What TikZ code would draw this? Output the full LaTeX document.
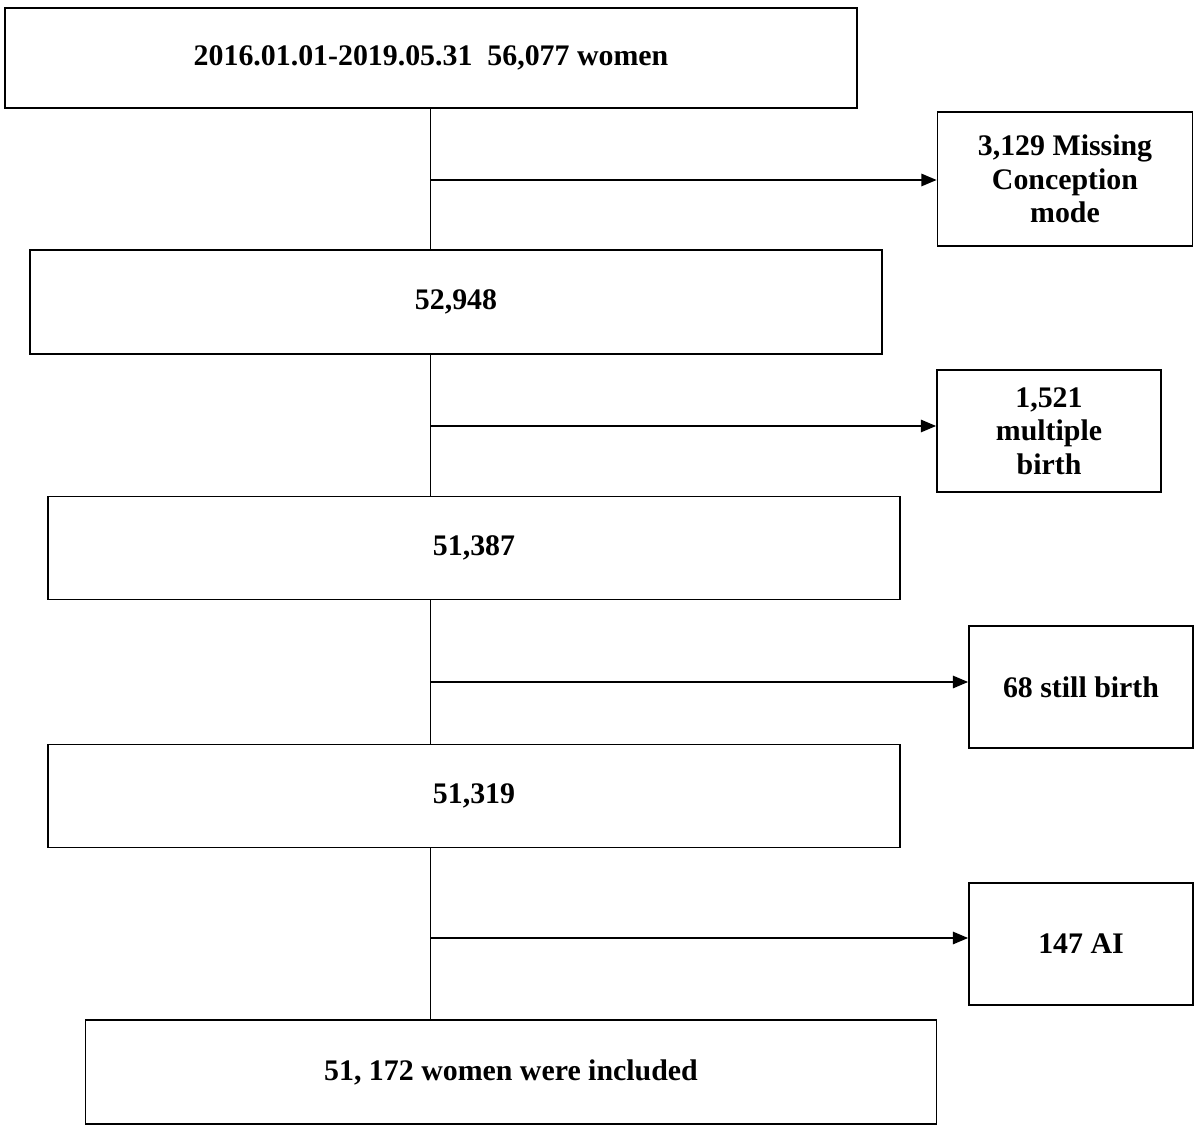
\documentclass[tikz,border=0pt]{standalone}
\usepackage{fontspec}
\setmainfont{Liberation Serif}
\usetikzlibrary{arrows}

\begin{document}
\begin{tikzpicture}[x=0.02cm,y=-0.02cm,
  box/.style={draw,line width=1.1pt,inner sep=0pt,align=center,
    font=\fontsize{17}{19}\selectfont\bfseries},
  link/.style={line width=0.5pt},
  exarrow/.style={line width=1pt,-triangle 45}]
\useasboundingbox (0,0) rectangle (1200,1131);
% main column
\node[box,minimum width=852*0.02cm,minimum height=100*0.02cm] (start) at (431,58) {2016.01.01-2019.05.31\ \ 56,077 women};
\node[box,minimum width=852*0.02cm,minimum height=104*0.02cm] (n1) at (456,302) {52,948};
\node[box,minimum width=852*0.02cm,minimum height=103*0.02cm] (n2) at (474,548) {51,387};
\node[box,minimum width=852*0.02cm,minimum height=103*0.02cm] (n3) at (474,796) {51,319};
\node[box,minimum width=851*0.02cm,minimum height=104*0.02cm] (final) at (511,1072) {51, 172 women were included};
% excluded
\node[box,minimum width=255*0.02cm,minimum height=134*0.02cm] (ex1) at (1065,179) {3,129 Missing\\Conception\\mode};
\node[box,minimum width=224*0.02cm,minimum height=122*0.02cm] (ex2) at (1049,431) {1,521\\multiple\\birth};
\node[box,minimum width=224*0.02cm,minimum height=122*0.02cm] (ex3) at (1081,687) {68 still birth};
\node[box,minimum width=224*0.02cm,minimum height=122*0.02cm] (ex4) at (1081,944) {147 AI};
% split points
\coordinate (s1) at (430,180);
\coordinate (s2) at (430,426);
\coordinate (s3) at (430,682);
\coordinate (s4) at (430,938);
\draw[link] (start.south -| s1) -- (n1.north -| s1);
\draw[link] (n1.south -| s2) -- (n2.north -| s2);
\draw[link] (n2.south -| s3) -- (n3.north -| s3);
\draw[link] (n3.south -| s4) -- (final.north -| s4);
\draw[exarrow] (s1) -- (s1 -| ex1.west);
\draw[exarrow] (s2) -- (s2 -| ex2.west);
\draw[exarrow] (s3) -- (s3 -| ex3.west);
\draw[exarrow] (s4) -- (s4 -| ex4.west);
\end{tikzpicture}
\end{document}
